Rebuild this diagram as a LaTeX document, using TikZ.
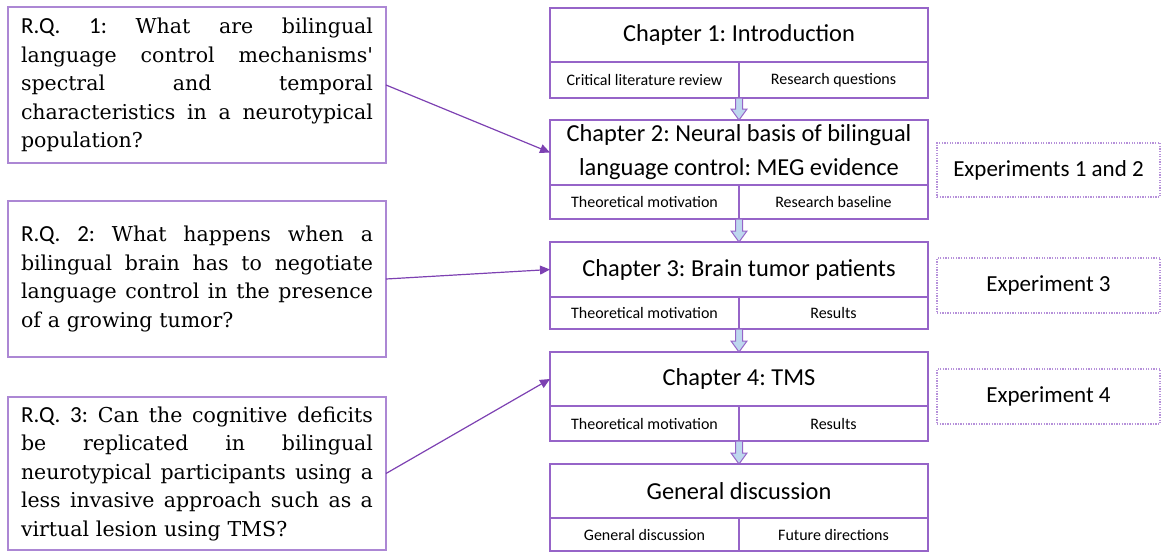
\documentclass[tikz,border=0pt]{standalone}
\usepackage{fontspec}
\setmainfont{DejaVu Serif}[Ligatures=TeXOff]
\newfontfamily\calib{Carlito}
\usetikzlibrary{calc,arrows.meta}
\frenchspacing

\definecolor{boxpurple}{RGB}{150,100,200}
\definecolor{rqpurple}{RGB}{172,135,212}
\definecolor{linkpurple}{RGB}{125,65,178}
\definecolor{arrowfill}{RGB}{189,215,238}
\definecolor{dotpurple}{RGB}{182,145,218}

% a justified line of a research-question box
\newcommand\fullline[1]{\makebox[352pt][s]{\spaceskip=0.3em plus 10em\xspaceskip=\spaceskip #1}}
% the sans "R.Q. n:" label
\newcommand\rqlabel[1]{{\calib\fontsize{23}{28.5}\selectfont #1}}
% hollow block arrow from one chapter to the next
\newcommand\flowarrow[2]{%
  \draw[blockarrow] ($(#1)+(-3.5,0)$) -- ($(#1)+(3.5,0)$) -- ($(#2)+(3.5,-11)$)
    -- ($(#2)+(8,-11)$) -- (#2) -- ($(#2)+(-8,-11)$) -- ($(#2)+(-3.5,-11)$) -- cycle;}

\begin{document}
\begin{tikzpicture}[x=1pt,y=-1pt,
  rqbox/.style={draw=rqpurple, line width=1.6pt, inner sep=0pt, outer sep=0pt,
    anchor=north west, minimum width=378, text width=352, align=left,
    font=\fontsize{20.5}{28.5}\selectfont},
  chhead/.style={draw=boxpurple, line width=1.6pt, inner sep=0pt, outer sep=0pt,
    anchor=north west, minimum width=378, align=center,
    font=\calib\fontsize{24.4}{34}\selectfont},
  chsub/.style={draw=boxpurple, line width=1.6pt, inner sep=0pt, outer sep=0pt,
    anchor=north west, minimum width=189, font=\calib\fontsize{16}{19}\selectfont},
  expbox/.style={draw=dotpurple, line width=1.3pt, dash pattern=on 1.3pt off 1.3pt,
    inner sep=0pt, outer sep=0pt, anchor=north west, minimum width=223,
    font=\calib\fontsize{23}{27}\selectfont},
  link/.style={draw=linkpurple, line width=1.2pt, -{Triangle[length=10pt,width=9pt]}},
  blockarrow/.style={draw=boxpurple, fill=arrowfill, line width=1pt, line join=miter}]
\useasboundingbox (0,0) rectangle (1162,552);

% research questions
\node[rqbox, minimum height=156] (rq1) at (8,7) {%
  \fullline{\rqlabel{R.Q.} \rqlabel{1:} What are bilingual}\\
  \fullline{language control mechanisms'}\\
  \fullline{spectral and temporal}\\
  \fullline{characteristics in a neurotypical}\\
  population?};
\node[rqbox, minimum height=156] (rq2) at (8,201) {%
  \fullline{\rqlabel{R.Q.} \rqlabel{2:} What happens when a}\\
  \fullline{bilingual brain has to negotiate}\\
  \fullline{language control in the presence}\\
  of a growing tumor?};
\node[rqbox, minimum height=153] (rq3) at (8,397) {%
  \fullline{\rqlabel{R.Q.} \rqlabel{3:} Can the cognitive deficits}\\
  \fullline{be replicated in bilingual}\\
  \fullline{neurotypical participants using a}\\
  \fullline{less invasive approach such as a}\\
  virtual lesion using TMS?};

% chapters
\node[chhead, minimum height=54] (c1) at (550,8) {Chapter 1: Introduction};
\node[chsub, minimum height=36] (c1a) at (550,62) {Critical literature review};
\node[chsub, minimum height=36] (c1b) at (739,62) {Research questions};

\node[chhead, minimum height=65] (c2) at (550,120) {Chapter 2: Neural basis of bilingual\\language control: MEG evidence};
\node[chsub, minimum height=34] (c2a) at (550,185) {Theoretical motivation};
\node[chsub, minimum height=34] (c2b) at (739,185) {Research baseline};

\node[chhead, minimum height=55] (c3) at (550,242) {Chapter 3: Brain tumor patients};
\node[chsub, minimum height=32] (c3a) at (550,297) {Theoretical motivation};
\node[chsub, minimum height=32] (c3b) at (739,297) {Results};

\node[chhead, minimum height=54] (c4) at (550,352) {Chapter 4: TMS};
\node[chsub, minimum height=35] (c4a) at (550,406) {Theoretical motivation};
\node[chsub, minimum height=35] (c4b) at (739,406) {Results};

\node[chhead, minimum height=54] (gd) at (550,464) {General discussion};
\node[chsub, minimum height=33] (gda) at (550,518) {General discussion};
\node[chsub, minimum height=33] (gdb) at (739,518) {Future directions};

% experiments
\node[expbox, minimum height=54] (e12) at (937,143) {Experiments 1 and 2};
\node[expbox, minimum height=55] (e3) at (937,258) {Experiment 3};
\node[expbox, minimum height=55] (e4) at (937,369) {Experiment 4};

% chapter flow
\flowarrow{c1a.south east}{c2.north}
\flowarrow{c2a.south east}{c3.north}
\flowarrow{c3a.south east}{c4.north}
\flowarrow{c4a.south east}{gd.north}

% questions to chapters
\draw[link] (rq1.east) -- (c2.west);
\draw[link] (rq2.east) -- (c3.west);
\draw[link] (rq3.east) -- (c4.west);
\end{tikzpicture}
\end{document}
